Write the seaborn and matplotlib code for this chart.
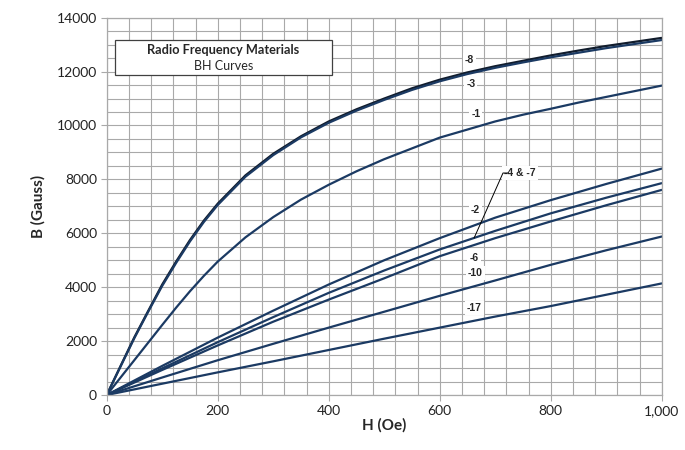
import numpy as np
import pandas as pd
import seaborn as sns
import matplotlib.pyplot as plt
from matplotlib.ticker import MultipleLocator, FuncFormatter
from matplotlib.patches import Rectangle

# ---------------- Data ----------------
h_fine = [0, 25, 50, 75, 100, 125, 150, 175, 200, 250, 300, 350, 400, 450, 500,
          550, 600, 650, 700, 750, 800, 850, 900, 950, 1000]
h_coarse = [0, 100, 200, 300, 400, 500, 600, 700, 800, 900, 1000]

b_8 = [0, 1080, 2150, 3130, 4100, 4950, 5750, 6470, 7100, 8150, 8950, 9600,
       10150, 10600, 11000, 11380, 11700, 11970, 12200, 12400, 12600, 12780,
       12950, 13100, 13250]
b_3 = [0, 1060, 2120, 3100, 4050, 4900, 5700, 6420, 7050, 8100, 8900, 9560,
       10100, 10550, 10950, 11320, 11640, 11910, 12140, 12340, 12530, 12700,
       12870, 13020, 13170]
b_1 = [0, 650, 1300, 1950, 2600, 3240, 3850, 4420, 4950, 5850, 6600, 7250,
       7800, 8300, 8750, 9150, 9550, 9850, 10150, 10400, 10620, 10850, 11060,
       11270, 11480]
b_2 = [0, 1080, 2130, 3130, 4100, 5000, 5820, 6580, 7230, 7830, 8400]
b_4_7 = [0, 990, 1960, 2890, 3790, 4620, 5400, 6090, 6740, 7320, 7860]
b_6 = [0, 930, 1840, 2720, 3540, 4330, 5150, 5820, 6440, 7040, 7610]
b_10 = [0, 650, 1290, 1900, 2500, 3090, 3680, 4250, 4830, 5370, 5880]
b_17 = [0, 420, 840, 1250, 1670, 2090, 2500, 2910, 3300, 3720, 4140]

curves = {
    "-8": (h_fine, b_8),
    "-3": (h_fine, b_3),
    "-1": (h_fine, b_1),
    "-2": (h_coarse, b_2),
    "-4 & -7": (h_coarse, b_4_7),
    "-6": (h_coarse, b_6),
    "-10": (h_coarse, b_10),
    "-17": (h_coarse, b_17),
}

# label positions (H, B)
label_names = ["-8", "-3", "-1", "-2", "-6", "-10", "-17"]
label_h = [654, 656, 665, 664, 662, 664, 662]
label_b = [12430, 11540, 10430, 6865, 5083, 4527, 3228]

rows = []
for name, (hs, bs) in curves.items():
    for h, b in zip(hs, bs):
        rows.append({"material": name, "H": h, "B": b})
df = pd.DataFrame(rows)

# ---------------- Plot ----------------
grid_col = "#a9a9a9"
sns.set_style("whitegrid", {"grid.color": grid_col, "axes.edgecolor": grid_col,
                            "xtick.bottom": True, "ytick.left": True,
                            "xtick.color": grid_col, "ytick.color": grid_col})
plt.rcParams["font.family"] = ["Lato", "DejaVu Sans"]
plt.rcParams["axes.grid.which"] = "both"
plt.rcParams["grid.linewidth"] = 0.8

fig = plt.figure(figsize=(6.85, 4.5), dpi=100)
ax = fig.add_axes([0.1558, 0.1222, 0.8102, 0.8385])

navy = "#1b3a63"
palette = {name: navy for name in curves}
palette["-8"] = "#111c2c"

sns.lineplot(data=df, x="H", y="B", hue="material", palette=palette,
             linewidth=1.6, legend=False, ax=ax, sort=False)

ax.set_xlim(0, 1000)
ax.set_ylim(0, 14000)
ax.xaxis.set_major_locator(MultipleLocator(200))
ax.xaxis.set_minor_locator(MultipleLocator(40))
ax.yaxis.set_major_locator(MultipleLocator(2000))
ax.yaxis.set_minor_locator(MultipleLocator(500))
ax.xaxis.set_major_formatter(FuncFormatter(lambda v, p: f"{int(v):,}"))
ax.yaxis.set_major_formatter(FuncFormatter(lambda v, p: f"{int(v)}"))

ax.grid(True, which="both", color=grid_col, linewidth=0.8)
for sp in ax.spines.values():
    sp.set_color(grid_col)
    sp.set_linewidth(0.9)
ax.tick_params(axis="both", which="major", length=4, color=grid_col,
               direction="out", labelsize=10, pad=3, labelcolor="#222222")
ax.tick_params(axis="both", which="minor", length=0)

ax.set_xlabel("H (Oe)", fontsize=11, fontweight="bold", labelpad=1)
ax.set_ylabel("B (Gauss)", fontsize=11, fontweight="bold", labelpad=8)

# title box
ax.add_patch(Rectangle((0.015, 0.848), 0.391, 0.093, transform=ax.transAxes,
                       facecolor="white", edgecolor="#404040", linewidth=0.9,
                       zorder=5))
ax.text(0.2105, 0.914, "Radio Frequency Materials", transform=ax.transAxes,
        ha="center", va="center", fontsize=9.2, fontweight="bold", zorder=6)
ax.text(0.2105, 0.872, "BH Curves", transform=ax.transAxes,
        ha="center", va="center", fontsize=9, zorder=6)

# curve labels
lab_font = dict(fontsize=7.5, fontweight="bold", family=["Liberation Sans"])
for name, h, b in zip(label_names, label_h, label_b):
    ax.text(h, b, name, ha="center", va="center", zorder=6,
            bbox=dict(facecolor="white", edgecolor="none", pad=1.5), **lab_font)

ax.text(716, 8237, "-4 & -7", ha="left", va="center", zorder=6,
        bbox=dict(facecolor="white", edgecolor="none", pad=1.5), **lab_font)
ax.plot([723, 714, 662], [8237, 8237, 5826], color="black", linewidth=0.7,
        zorder=6)

fig.savefig("out.png", dpi=100)
